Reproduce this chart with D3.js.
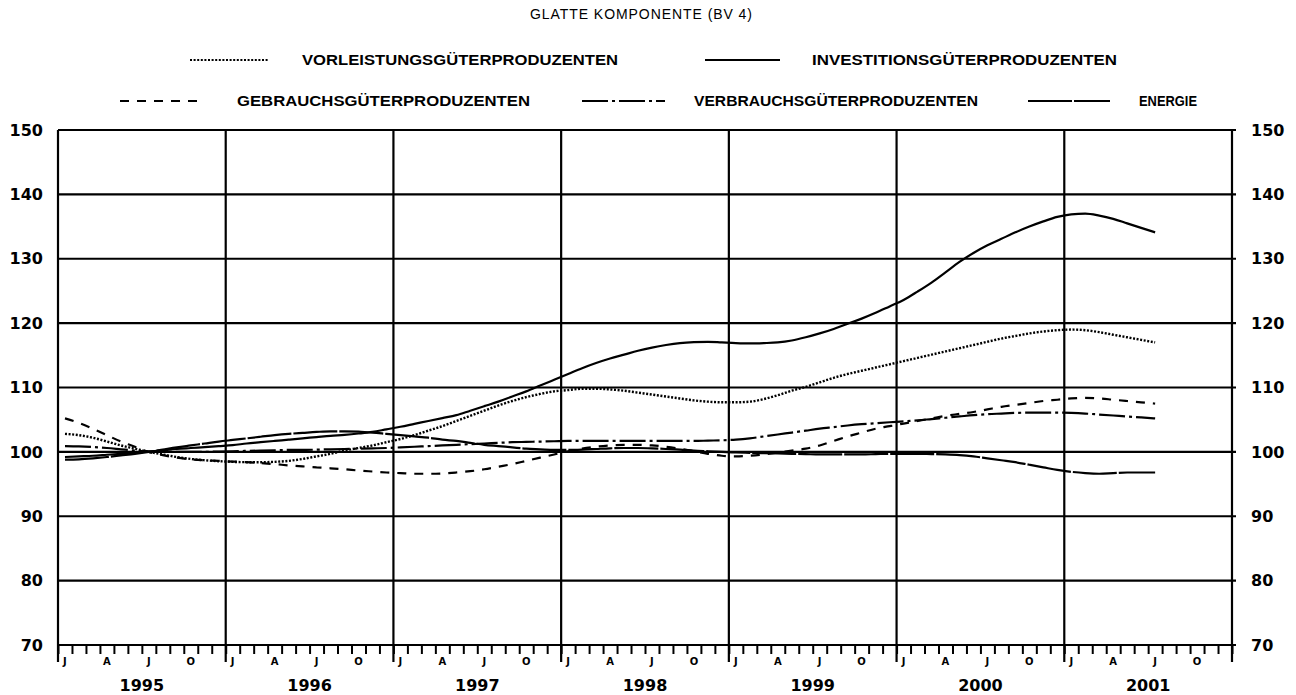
<!DOCTYPE html>
<html><head><meta charset="utf-8">
<script src="https://cdn.jsdelivr.net/npm/d3@7"></script>
<style>body{margin:0;background:#fff}svg{display:block}</style>
</head><body>
<svg id="chart" width="1296" height="695"></svg>
<script>
// ---------- DATA ----------
const chartTitle = "GLATTE KOMPONENTE (BV 4)";
const yearLabels = ["1995","1996","1997","1998","1999","2000","2001"];
const monthLabels = ["J","A","J","O"];      // Jan, Apr, Jul, Oct
const monthLabelIdx = [0,3,6,9];
const yTicks = [70,80,90,100,110,120,130,140,150];
const seriesNames = ["VORLEISTUNGSGÜTERPRODUZENTEN","INVESTITIONSGÜTERPRODUZENTEN",
  "GEBRAUCHSGÜTERPRODUZENTEN","VERBRAUCHSGÜTERPRODUZENTEN","ENERGIE"];
// monthly values Jan 1995 .. Jul 2001
const vorleistung = [
 102.8,102.6,102.2,101.6,101.0,100.5,100.0,99.6,99.2,98.9,98.7,98.55,
 98.45,98.4,98.4,98.45,98.6,98.9,99.3,99.7,100.2,100.6,101.0,101.5,
 102.0,102.6,103.3,104.0,104.8,105.6,106.4,107.2,107.9,108.5,109.0,109.4,
 109.6,109.8,109.8,109.7,109.5,109.2,108.9,108.6,108.3,108.0,107.8,107.7,
 107.7,107.8,108.2,108.8,109.5,110.1,110.8,111.5,112.1,112.6,113.1,113.6,
 114.1,114.6,115.1,115.6,116.1,116.6,117.1,117.6,118.0,118.4,118.7,118.9,
 119.0,118.9,118.6,118.2,117.8,117.4,117.0];
const investition = [
 99.2,99.3,99.4,99.55,99.7,99.85,100.05,100.25,100.45,100.6,100.75,100.9,
 101.05,101.3,101.5,101.7,101.9,102.1,102.3,102.5,102.65,102.85,103.1,103.5,
 103.9,104.35,104.8,105.25,105.7,106.4,107.1,107.8,108.6,109.4,110.3,111.2,
 112.1,113.0,113.8,114.5,115.1,115.7,116.2,116.6,116.9,117.05,117.1,117.0,
 116.9,116.85,116.9,117.0,117.3,117.8,118.4,119.1,119.9,120.7,121.6,122.6,
 123.6,124.9,126.3,127.9,129.5,130.9,132.1,133.1,134.1,135.0,135.8,136.5,
 136.9,137.0,136.7,136.2,135.5,134.8,134.1];
const gebrauch = [
 105.2,104.5,103.6,102.6,101.6,100.8,100.0,99.5,99.1,98.85,98.7,98.6,
 98.5,98.4,98.25,98.1,97.9,97.75,97.6,97.45,97.3,97.1,96.95,96.8,
 96.7,96.6,96.6,96.65,96.8,97.0,97.3,97.7,98.1,98.6,99.1,99.6,
 100.1,100.5,100.8,101.0,101.1,101.1,101.0,100.8,100.5,100.1,99.7,99.4,
 99.3,99.4,99.6,99.9,100.2,100.5,101.0,101.7,102.4,103.0,103.6,104.0,
 104.4,104.8,105.2,105.6,105.9,106.2,106.6,107.0,107.3,107.6,107.9,108.1,
 108.3,108.4,108.3,108.1,107.9,107.7,107.5];
const verbrauch = [
 100.9,100.85,100.75,100.6,100.4,100.2,100.05,100.0,100.0,100.0,100.0,100.05,
 100.1,100.15,100.2,100.25,100.3,100.3,100.35,100.4,100.45,100.5,100.55,100.6,
 100.7,100.8,100.9,101.0,101.1,101.2,101.3,101.4,101.5,101.55,101.6,101.65,
 101.7,101.7,101.7,101.7,101.7,101.7,101.7,101.7,101.7,101.7,101.75,101.8,
 101.9,102.1,102.4,102.7,103.0,103.3,103.6,103.85,104.1,104.3,104.45,104.6,
 104.75,104.9,105.1,105.3,105.5,105.7,105.85,105.95,106.05,106.1,106.1,106.1,
 106.05,105.95,105.8,105.65,105.5,105.35,105.2];
const energie = [
 98.8,98.85,99.0,99.2,99.45,99.7,100.0,100.35,100.7,101.0,101.3,101.6,
 101.85,102.1,102.35,102.6,102.8,102.95,103.1,103.2,103.2,103.15,103.0,102.8,
 102.6,102.4,102.2,101.9,101.7,101.4,101.1,100.9,100.7,100.5,100.4,100.3,
 100.3,100.35,100.45,100.55,100.6,100.6,100.55,100.45,100.35,100.2,100.1,100.0,
 99.9,99.85,99.8,99.75,99.7,99.65,99.6,99.6,99.6,99.6,99.65,99.7,
 99.7,99.7,99.65,99.6,99.5,99.3,99.0,98.7,98.4,98.0,97.6,97.2,
 96.9,96.7,96.6,96.7,96.8,96.8,96.8];

// ---------- STYLES / LAYOUT ----------
const allSeries = [vorleistung, investition, gebrauch, verbrauch, energie];
const dashes = ["2,1.6", null, "9,8", "26,4,3,4", "44,2"];
const legendLayout = [
  {row:0, x1:190, x2:268, tx:302, tw:316},
  {row:0, x1:705, x2:780, tx:812, tw:305},
  {row:1, x1:120, x2:205, tx:237, tw:293},
  {row:1, x1:582, x2:665, tx:694, tw:284},
  {row:1, x1:1028,x2:1110,tx:1139,tw:58}
];
const legendRowY = [60, 101];
const nMonths = yearLabels.length * 12;
const textFont = "Liberation Sans, Arial, sans-serif";
const numFont = "DejaVu Sans, sans-serif";

const svg = d3.select("#chart");
const x = d3.scaleLinear().domain([0, nMonths]).range([58, 1232]);
const y = d3.scaleLinear().domain([70, 150]).range([645, 130]);

// title
svg.append("text").attr("x", 641).attr("y", 19).attr("text-anchor","middle")
  .attr("font-family",textFont).attr("font-size",14)
  .attr("textLength",222).attr("lengthAdjust","spacing").text(chartTitle);

// grid horizontal
svg.append("g").selectAll("line").data(yTicks).join("line")
  .attr("x1", x(0)).attr("x2", x(nMonths)+4)
  .attr("y1", d=>y(d)).attr("y2", d=>y(d))
  .attr("stroke","#000").attr("stroke-width",2.2);
// grid vertical (years)
svg.append("g").selectAll("line").data(d3.range(0, nMonths+1, 12)).join("line")
  .attr("x1", d=>x(d)).attr("x2", d=>x(d))
  .attr("y1", y(150)).attr("y2", y(70)+17)
  .attr("stroke","#000").attr("stroke-width",2.2);

// month ticks via axis
const monthAxis = d3.axisBottom(x).tickValues(d3.range(0, nMonths+1)).tickSize(9).tickFormat("");
const gm = svg.append("g").attr("transform",`translate(0,${y(70)})`).call(monthAxis);
gm.select(".domain").remove();
gm.selectAll(".tick line").attr("stroke","#000").attr("stroke-width",2);

// y labels left/right via axes
const yAxL = d3.axisLeft(y).tickValues(yTicks).tickSize(0).tickPadding(15);
const gl = svg.append("g").attr("transform",`translate(${x(0)},0)`).call(yAxL);
const yAxR = d3.axisRight(y).tickValues(yTicks).tickSize(0).tickPadding(19);
const gr = svg.append("g").attr("transform",`translate(${x(nMonths)},0)`).call(yAxR);
[gl, gr].forEach(g => {
  g.select(".domain").remove();
  g.selectAll("text").attr("font-family",numFont).attr("font-weight","bold")
    .attr("font-size",16).attr("fill","#000");
});

// month labels
const ml = [];
yearLabels.forEach((yl, yi) => monthLabelIdx.forEach((mi, k) => ml.push({m: yi*12+mi, t: monthLabels[k]})));
svg.append("g").selectAll("text").data(ml).join("text")
  .attr("x", d=>x(d.m+0.5)).attr("y", 665).attr("text-anchor","middle")
  .attr("font-family",numFont).attr("font-weight","bold").attr("font-size",10)
  .text(d=>d.t);
// year labels
svg.append("g").selectAll("text").data(yearLabels).join("text")
  .attr("x", (d,i)=>x(i*12+6)).attr("y", 691).attr("text-anchor","middle")
  .attr("font-family",numFont).attr("font-weight","bold").attr("font-size",16)
  .text(d=>d);

// lines
const line = d3.line().x((d,i)=>x(i+0.5)).y(d=>y(d)).curve(d3.curveMonotoneX);
svg.append("g").selectAll("path").data(allSeries).join("path")
  .attr("d", line).attr("fill","none").attr("stroke","#000")
  .attr("stroke-width",(d,i)=> i===0 ? 2.4 : 2.2)
  .attr("stroke-dasharray",(d,i)=>dashes[i]);

// legend
const lg = svg.append("g");
seriesNames.forEach((name,i) => {
  const L = legendLayout[i], yy = legendRowY[L.row];
  lg.append("line").attr("x1",L.x1).attr("x2",L.x2).attr("y1",yy).attr("y2",yy)
    .attr("stroke","#000").attr("stroke-width",2).attr("stroke-dasharray",dashes[i]);
  lg.append("text").attr("x",L.tx).attr("y",yy+5)
    .attr("font-family",textFont).attr("font-size",14).attr("font-weight","bold")
    .attr("textLength",L.tw).attr("lengthAdjust","spacingAndGlyphs").text(name);
});
</script>
</body></html>
